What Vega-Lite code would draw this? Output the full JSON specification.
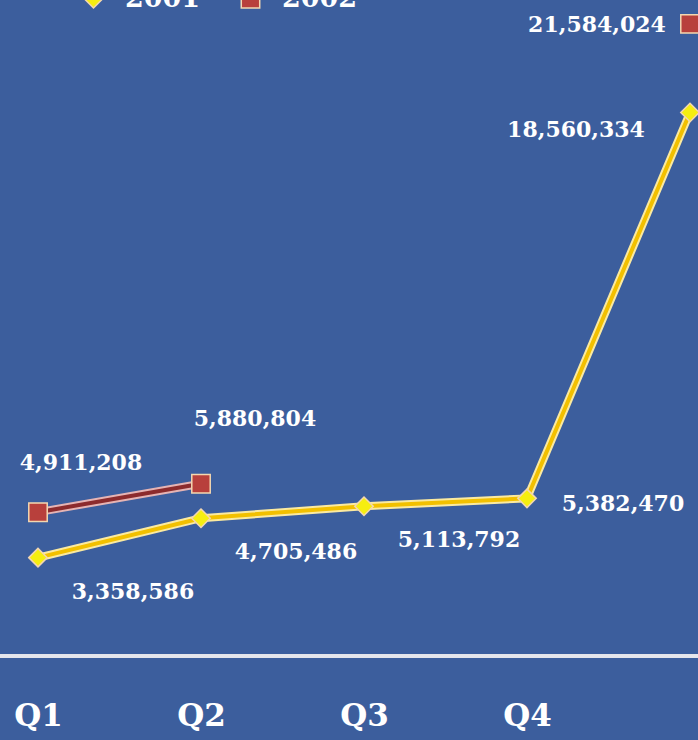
{
  "$schema": "https://vega.github.io/schema/vega-lite/v6.json",
  "width": 698,
  "height": 656,
  "autosize": {"type": "none"},
  "padding": {"left": 0, "top": 0, "right": 0, "bottom": 84},
  "background": "#3c5e9d",
  "config": {"view": {"stroke": null}},
  "data": {
    "values": [
      {"quarter": "Q1", "year": "2001", "value": 3358586},
      {"quarter": "Q2", "year": "2001", "value": 4705486},
      {"quarter": "Q3", "year": "2001", "value": 5113792},
      {"quarter": "Q4", "year": "2001", "value": 5382470},
      {"quarter": "Total", "year": "2001", "value": 18560334},
      {"quarter": "Q1", "year": "2002", "value": 4911208},
      {"quarter": "Q2", "year": "2002", "value": 5880804},
      {"quarter": "Q3", "year": "2002", "value": null},
      {"quarter": "Q4", "year": "2002", "value": null},
      {"quarter": "Total", "year": "2002", "value": 21584024}
    ]
  },
  "encoding": {
    "x": {
      "field": "quarter",
      "type": "ordinal",
      "sort": ["Q1", "Q2", "Q3", "Q4", "Total"],
      "scale": {"type": "point", "range": [38, 690], "padding": 0},
      "axis": {
        "title": null,
        "domain": false,
        "ticks": false,
        "grid": false,
        "labelAngle": 0,
        "labelExpr": "datum.value == 'Total' ? '' : datum.value",
        "labelFont": "DejaVu Serif",
        "labelFontWeight": "bold",
        "labelFontSize": 31,
        "labelColor": "white",
        "labelPadding": 45
      }
    },
    "y": {
      "field": "value",
      "type": "quantitative",
      "scale": {"domain": [0, 22400000], "nice": false},
      "axis": null
    }
  },
  "layer": [
    {
      "mark": {"type": "rule", "color": "#e6e6ec", "strokeWidth": 3},
      "encoding": {"x": null, "y": {"datum": 0}}
    },
    {
      "mark": {"type": "line", "strokeWidth": 8},
      "encoding": {
        "detail": {"field": "year"},
        "stroke": {"condition": {"test": "datum.year == '2001'", "value": "#fbeaa0"}, "value": "#e6b4b4"}
      }
    },
    {
      "mark": {"type": "line", "strokeWidth": 4},
      "encoding": {
        "detail": {"field": "year"},
        "stroke": {"condition": {"test": "datum.year == '2001'", "value": "#f2c000"}, "value": "#8c2b2d"}
      }
    },
    {
      "transform": [{"filter": "datum.value != null"}],
      "mark": {"type": "point", "filled": true, "opacity": 1, "size": 340, "stroke": "#f3d7b0", "strokeWidth": 1.5},
      "encoding": {
        "color": {
          "field": "year",
          "type": "nominal",
          "scale": {"domain": ["2001", "2002"], "range": ["#f6ee10", "#b8403c"]},
          "legend": {
            "title": null,
            "orient": "none",
            "legendX": 80,
            "legendY": -15,
            "direction": "horizontal",
            "labelFont": "DejaVu Serif",
            "labelFontWeight": "bold",
            "labelFontSize": 27,
            "labelColor": "white",
            "symbolSize": 340,
            "labelOffset": 18,
            "columnPadding": 36,
            "padding": 0
          }
        },
        "shape": {
          "field": "year",
          "type": "nominal",
          "scale": {"domain": ["2001", "2002"], "range": ["diamond", "square"]},
          "legend": null
        }
      }
    },
    {
      "transform": [{"filter": "datum.year == '2001' && (datum.quarter == 'Q1' || datum.quarter == 'Q2' || datum.quarter == 'Q3')"}],
      "mark": {"type": "text", "dx": 95, "dy": 34, "font": "DejaVu Serif", "fontWeight": "bold", "fontSize": 22, "color": "white"},
      "encoding": {"text": {"field": "value", "type": "quantitative", "format": ","}}
    },
    {
      "transform": [{"filter": "datum.year == '2001' && datum.quarter == 'Q4'"}],
      "mark": {"type": "text", "dx": 96, "dy": 6, "font": "DejaVu Serif", "fontWeight": "bold", "fontSize": 22, "color": "white"},
      "encoding": {"text": {"field": "value", "type": "quantitative", "format": ","}}
    },
    {
      "transform": [{"filter": "datum.year == '2001' && datum.quarter == 'Total'"}],
      "mark": {"type": "text", "dx": -114, "dy": 18, "font": "DejaVu Serif", "fontWeight": "bold", "fontSize": 22, "color": "white"},
      "encoding": {"text": {"field": "value", "type": "quantitative", "format": ","}}
    },
    {
      "transform": [{"filter": "datum.year == '2002' && datum.quarter == 'Q1'"}],
      "mark": {"type": "text", "dx": 43, "dy": -49, "font": "DejaVu Serif", "fontWeight": "bold", "fontSize": 22, "color": "white"},
      "encoding": {"text": {"field": "value", "type": "quantitative", "format": ","}}
    },
    {
      "transform": [{"filter": "datum.year == '2002' && datum.quarter == 'Q2'"}],
      "mark": {"type": "text", "dx": 54, "dy": -65, "font": "DejaVu Serif", "fontWeight": "bold", "fontSize": 22, "color": "white"},
      "encoding": {"text": {"field": "value", "type": "quantitative", "format": ","}}
    },
    {
      "transform": [{"filter": "datum.year == '2002' && datum.quarter == 'Total'"}],
      "mark": {"type": "text", "dx": -93, "dy": 1, "font": "DejaVu Serif", "fontWeight": "bold", "fontSize": 22, "color": "white"},
      "encoding": {"text": {"field": "value", "type": "quantitative", "format": ","}}
    }
  ]
}
